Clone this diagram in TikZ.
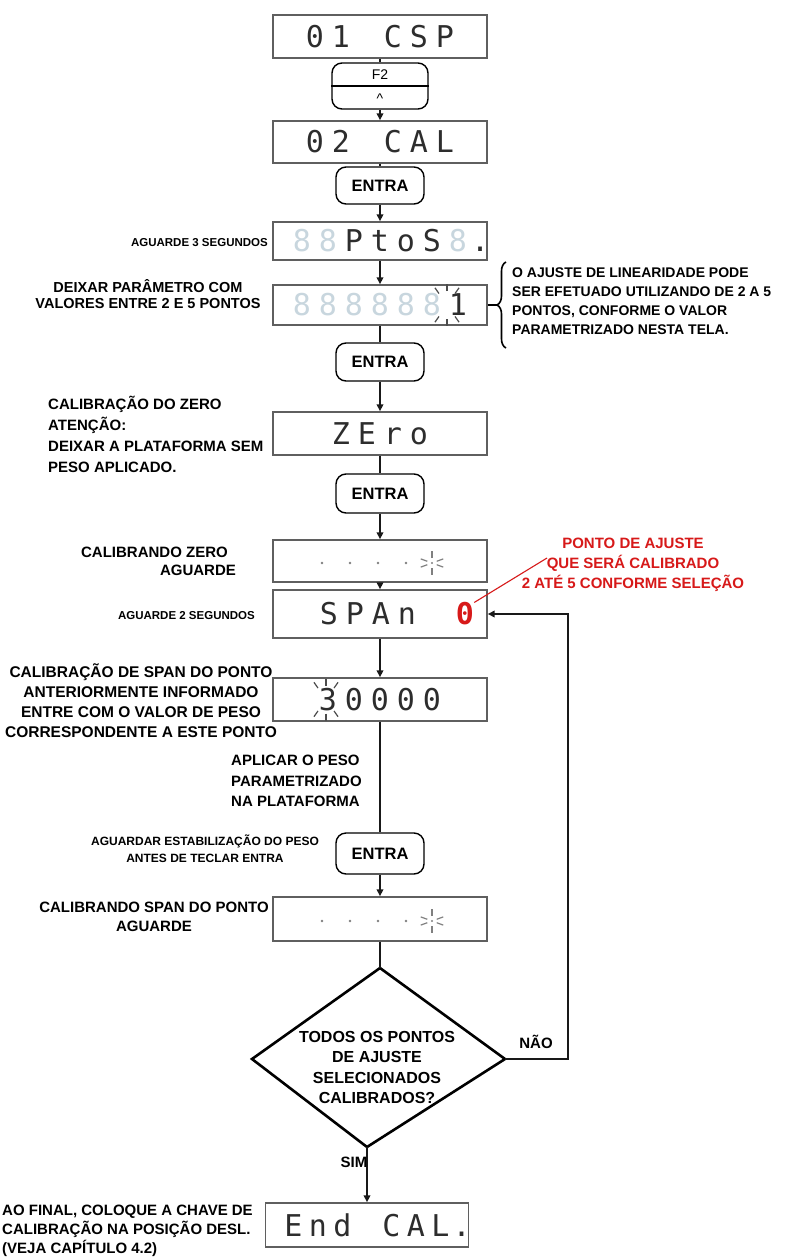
\documentclass[tikz,border=0pt]{standalone}
\usepackage{fontspec}
\setmainfont{Liberation Sans}
\newfontfamily\dispfont{DejaVu Sans Mono}
\usetikzlibrary{arrows.meta,decorations.pathreplacing,calc}
\definecolor{ghost}{RGB}{200,214,222}
\definecolor{lcd}{RGB}{45,45,45}
\definecolor{redtxt}{RGB}{215,25,25}
\definecolor{boxline}{RGB}{95,95,95}
\newcommand\dc[1]{\makebox[26pt][c]{#1}}
\newcommand\gc{\makebox[26pt][c]{\textcolor{ghost}{8}}}
\newcommand\fsz[2]{\fontsize{#1}{#2}\selectfont}
\newcommand\sparkle[6]{% x y inner outer angles color
  \foreach \a in {#5} \draw[#6, line width=1.2pt] ($(#1,#2)+(\a:#3pt)$) -- ($(#1,#2)+(\a:#4pt)$);}
\tikzset{
  disp/.style={draw=boxline, line width=1.4pt, minimum width=214pt, minimum height=43pt, inner sep=0pt, font=\dispfont\fsz{30}{30}, text=lcd},
  btn/.style={draw=black, line width=1.4pt, rounded corners=10pt, minimum width=88pt, minimum height=39pt, inner sep=0pt, font=\bfseries\fsz{16.5}{16.5}},
  lbl/.style={font=\bfseries\fsz{15}{20}, inner sep=0pt, align=center},
  slbl/.style={font=\bfseries\fsz{11.5}{17}, inner sep=0pt, align=center},
  conn/.style={line width=1.9pt, draw=black!90},
  arr/.style={conn, -{Triangle[length=7pt,width=6.5pt]}},
}
\begin{document}
\begin{tikzpicture}[x=1pt,y=-1pt]
\useasboundingbox (0,0) rectangle (784,1257);
\fill[white] (0,0) rectangle (784,1257);

% ---- main column ----
\node[disp] (b1) at (380,36.5) {\dc{0}\dc{1}\dc{ }\dc{C}\dc{S}\dc{P}};
\node[btn, minimum width=96pt, minimum height=46pt] (f2) at (380,86) {};
\draw[line width=1.4pt] (f2.west) -- (f2.east);
\node[font=\fsz{14}{14}, inner sep=0pt] (f2t) at (380,75) {F2};
\node[font=\fsz{14}{14}, inner sep=0pt] (f2c) at (380,99) {\textasciicircum};
\node[disp, minimum height=42pt] (b2) at (380,142) {\dc{0}\dc{2}\dc{ }\dc{C}\dc{A}\dc{L}};
\node[btn, minimum height=37pt] (e1) at (380,185.5) {ENTRA};
\node[disp, minimum height=38pt] (b3) at (380,241) {\gc\gc\dc{P}\dc{t}\dc{o}\dc{S}\gc\makebox[0pt][l]{.}};
\node[disp, minimum height=40pt] (b4) at (380,305) {\gc\gc\gc\gc\gc\gc\dc{1}};
\node[btn, minimum height=38pt] (e2) at (380,362) {ENTRA};
\node[disp] (b5) at (380,433.5) {\dc{Z}\dc{E}\dc{r}\dc{o}};
\node[btn] (e3) at (380,493.5) {ENTRA};
\node[disp, minimum height=42pt] (b6) at (380,561) {};
\node[disp, minimum height=48pt] (b7) at (380,614) {};
\node[disp] (b8) at (380,699.5) {\dc{3}\dc{0}\dc{0}\dc{0}\dc{0}};
\node[btn, minimum height=41pt] (e4) at (380,853.5) {ENTRA};
\node[disp, minimum height=44pt] (b9) at (380,919) {};
\coordinate (dT) at (380,968);
\coordinate (dR) at (505,1059);
\coordinate (dB) at (367,1147);
\coordinate (dL) at (252,1059);
\draw[line width=2.6pt] (dT) -- (dR) -- (dB) -- (dL) -- cycle;
\node[disp, minimum width=203pt, minimum height=44pt] (b10) at (367,1225) {\makebox[24.5pt]{E}\makebox[24.5pt]{n}\makebox[24.5pt]{d}\makebox[24.5pt]{ }\makebox[24.5pt]{C}\makebox[24.5pt]{A}\makebox[24.5pt]{L}\makebox[0pt][l]{.}};

% display extras
\node[font=\dispfont\fsz{30}{30}, text=lcd, inner sep=0pt] (spn) at (368,614) {\dc{S}\dc{P}\dc{A}\dc{n}};
\node[font=\dispfont\bfseries\fsz{30}{30}, text=redtxt, inner sep=0pt] (rdig) at (465,614) {0};
\foreach \x in {322,350,378,406} {\fill[gray] (\x,563) circle (1.3pt); \fill[gray] (\x,921) circle (1.3pt);}
\fill[gray] (432,563) circle (1.2pt);
\fill[gray] (432,921) circle (1.2pt);
\sparkle{432}{563}{5}{12}{90,270,20,160,200,340}{gray}
\sparkle{432}{921}{5}{12}{90,270,20,160,200,340}{gray}
\sparkle{447}{305}{14}{21}{55,90,125,235,270,305}{black!70}
\sparkle{326}{699.5}{14}{21}{55,90,125,235,270,305}{black!70}

% connectors
\draw[conn] (b1) -- (f2);
\draw[arr] (f2) -- (b2);
\draw[conn] (b2) -- (e1);
\draw[arr] (e1) -- (b3);
\draw[arr] (b3) -- (b4);
\draw[conn] (b4) -- (e2);
\draw[arr] (e2) -- (b5);
\draw[conn] (b5) -- (e3);
\draw[arr] (e3) -- (b6);
\draw[arr] (b6) -- (b7);
\draw[arr] (b7) -- (b8);
\draw[conn] (b8) -- (e4);
\draw[arr] (e4) -- (b9);
\draw[conn] (b9) -- (dT);
\draw[arr] (dB) -- (b10);
\coordinate (lp) at (568,614);
\draw[arr] (dR) -| (lp) -- (b7.east);

% brace
\draw[line width=1.6pt, decorate, decoration={brace, amplitude=9pt}] (506,348) -- (506,262);
\coordinate (brtip) at (497,305);
\draw[line width=1.6pt] (b4.east) -- (brtip);

% red note
\coordinate (rl1) at (547,558);
\draw[redtxt, line width=1.1pt] (rdig.north east) -- (rl1);
\node[lbl, text=redtxt] (r1) at (633,565) {PONTO DE AJUSTE\\QUE SERÁ CALIBRADO\\2 ATÉ 5 CONFORME SELEÇÃO};

% labels
\node[slbl, anchor=east] (l1) at (268,243) {AGUARDE 3 SEGUNDOS};
\node[lbl, font=\bfseries\fsz{14.5}{16}] (l2) at (148,294) {DEIXAR PARÂMETRO COM\\VALORES ENTRE 2 E 5 PONTOS};
\node[lbl, font=\bfseries\fsz{14}{19}, align=left, anchor=west] (l3) at (512,301.5) {O AJUSTE DE LINEARIDADE PODE\\SER EFETUADO UTILIZANDO DE 2 A 5\\PONTOS, CONFORME O VALOR\\PARAMETRIZADO NESTA TELA.};
\node[lbl, font=\bfseries\fsz{15}{21}, align=left, anchor=west] (l4) at (48,434) {CALIBRAÇÃO DO ZERO\\ATENÇÃO:\\DEIXAR A PLATAFORMA SEM\\PESO APLICADO.};
\node[lbl, anchor=east] (l5) at (228,552) {CALIBRANDO ZERO};
\node[lbl] (l6) at (198,570) {AGUARDE};
\node[slbl, anchor=east] (l7) at (255,616) {AGUARDE 2 SEGUNDOS};
\node[lbl, font=\bfseries\fsz{15.5}{20}] (l8) at (141,701) {CALIBRAÇÃO DE SPAN DO PONTO\\ANTERIORMENTE INFORMADO\\ENTRE COM O VALOR DE PESO\\CORRESPONDENTE A ESTE PONTO};
\node[lbl, font=\bfseries\fsz{15}{20.5}, align=left, anchor=west] (l9) at (231,781) {APLICAR O PESO\\PARAMETRIZADO\\NA PLATAFORMA};
\node[slbl, font=\bfseries\fsz{12}{17}] (l10) at (205,848.5) {AGUARDAR ESTABILIZAÇÃO DO PESO\\ANTES DE TECLAR ENTRA};
\node[lbl, font=\bfseries\fsz{15}{19}] (l11) at (154,916.5) {CALIBRANDO SPAN DO PONTO\\AGUARDE};
\node[lbl, font=\bfseries\fsz{16}{20.3}] (dtxt) at (377,1067.5) {TODOS OS PONTOS\\DE AJUSTE\\SELECIONADOS\\CALIBRADOS?};
\node[lbl] (nao) at (536,1042) {NÃO};
\node[lbl] (sim) at (354,1162) {SIM};
\node[lbl, font=\bfseries\fsz{15}{19}, align=left, anchor=west] (l12) at (2,1231) {AO FINAL, COLOQUE A CHAVE DE\\CALIBRAÇÃO NA POSIÇÃO DESL.\\(VEJA CAPÍTULO 4.2)};
\end{tikzpicture}
\end{document}
